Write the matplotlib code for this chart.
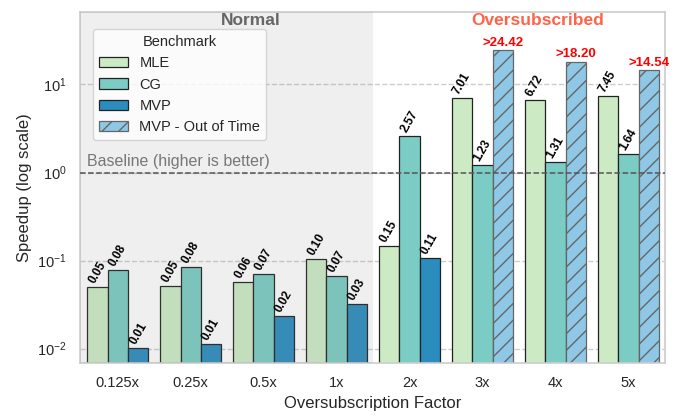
import numpy as np
import matplotlib.pyplot as plt
import seaborn as sns

sns.set_theme(style="whitegrid")
plt.rcParams['font.family'] = ['Liberation Sans', 'DejaVu Sans']

factors = ['0.125x', '0.25x', '0.5x', '1x', '2x', '3x', '4x', '5x']
mle = [0.05, 0.051, 0.057, 0.1035, 0.148, 7.01, 6.72, 7.45]
cg = [0.079, 0.084, 0.070, 0.067, 2.57, 1.23, 1.31, 1.64]
mvp = [0.0102, 0.0114, 0.0233, 0.0324, 0.108, None, None, None]
mvp_oot = [None, None, None, None, None, 24.42, 18.20, 14.54]
mle_labels = ['0.05', '0.05', '0.06', '0.10', '0.15', '7.01', '6.72', '7.45']
cg_labels = ['0.08', '0.08', '0.07', '0.07', '2.57', '1.23', '1.31', '1.64']
mvp_labels = ['0.01', '0.01', '0.02', '0.03', '0.11']

c_mle = '#ccebc5'
c_cg = '#7bccc4'
c_mvp = '#2b8cbe'
c_oot = '#8ec8e6'

fig, ax = plt.subplots(figsize=(6.77, 4.18), dpi=100)
fig.subplots_adjust(left=0.118, right=0.982, top=0.972, bottom=0.132)

x = np.arange(len(factors))
w = 0.28

ax.bar(x - w, mle, w, color=c_mle, edgecolor='#222222', linewidth=0.9, label='MLE', zorder=2)
ax.bar(x, cg, w, color=c_cg, edgecolor='#222222', linewidth=0.9, label='CG', zorder=2)
mvp_x = [xi for xi, v in zip(x, mvp) if v is not None]
mvp_v = [v for v in mvp if v is not None]
ax.bar(np.array(mvp_x) + w, mvp_v, w, color=c_mvp, edgecolor='#222222', linewidth=0.9, label='MVP', zorder=2)
oot_x = [xi for xi, v in zip(x, mvp_oot) if v is not None]
oot_v = [v for v in mvp_oot if v is not None]
plt.rcParams['hatch.color'] = '#666666'
ax.bar(np.array(oot_x) + w, oot_v, w, color=c_oot, edgecolor='#666666', linewidth=0.9,
       hatch='//', label='MVP - Out of Time', zorder=2)

# value labels
lab_kw = dict(rotation=60, ha='center', va='bottom', fontsize=8.5, fontweight='bold',
              color='black', zorder=4)
for xi, v, s in zip(x, mle, mle_labels):
    ax.text(xi - w, v * 1.04, s, **lab_kw)
for xi, v, s in zip(x, cg, cg_labels):
    ax.text(xi, v * 1.04, s, **lab_kw)
for xi, v, s in zip(mvp_x, mvp_v, mvp_labels):
    ax.text(xi + w, v * 1.04, s, **lab_kw)
for xi, v in zip(oot_x, oot_v):
    ax.text(xi + w, v * 1.04, '>%.2f' % v, ha='center', va='bottom', fontsize=9.5,
            fontweight='bold', color='red', zorder=4)

ax.set_yscale('log')
ax.set_ylim(0.0069, 67)
ax.set_xlim(-0.52, 7.5)

ax.axvspan(-0.52, 3.5, color='#888888', alpha=0.13, lw=0, zorder=3)
ax.axhline(1.0, color='#555555', linestyle='--', linewidth=1.1, zorder=3)
ax.text(-0.42, 1.1, 'Baseline (higher is better)', color='#777777', fontsize=11.5,
        ha='left', va='bottom')
ax.text(1.82, 0.995, 'Normal', transform=ax.get_xaxis_transform(), ha='center', va='top',
        fontsize=12.5, fontweight='bold', color='#666666')
ax.text(5.76, 0.995, 'Oversubscribed', transform=ax.get_xaxis_transform(), ha='center', va='top',
        fontsize=12.5, fontweight='bold', color='#ff6347')

ax.grid(False)
ax.yaxis.grid(True, which='major', linestyle='--', color='#cccccc', linewidth=1.0)
ax.set_axisbelow(True)
for sp in ax.spines.values():
    sp.set_color('#cccccc')
    sp.set_linewidth(1.2)

ax.set_xticks(x)
ax.set_xticklabels(factors, fontsize=10.5)
ax.tick_params(axis='y', labelsize=10.5)
ax.set_xlabel('Oversubscription Factor', fontsize=12)
ax.set_ylabel('Speedup (log scale)', fontsize=12)

leg = ax.legend(title='Benchmark', loc='upper left', bbox_to_anchor=(0.022, 0.95),
                borderaxespad=0, fontsize=10.5, title_fontsize=10.5, frameon=True)
leg.get_frame().set_facecolor('white')
leg.set_zorder(5)

fig.savefig('out.png', dpi=100)
